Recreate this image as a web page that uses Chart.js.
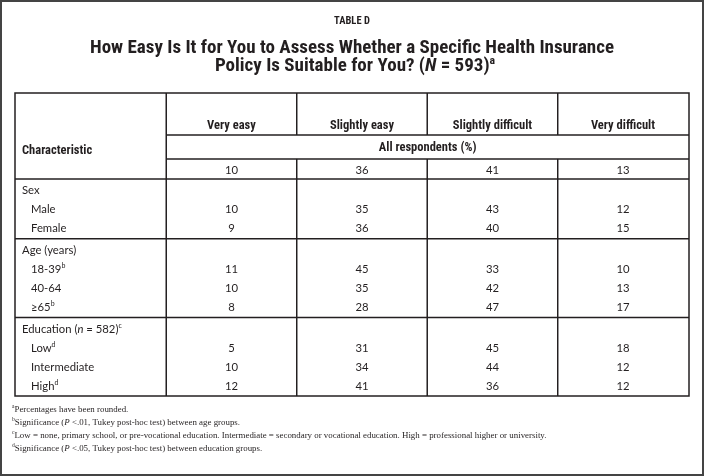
<!DOCTYPE html>
<html><head><meta charset="utf-8">
<script src="https://cdn.jsdelivr.net/npm/chart.js@4.4.0/dist/chart.umd.min.js"></script>
<style>html,body{margin:0;padding:0;background:#fff;overflow:hidden}</style>
</head><body>
<canvas id="c" width="704" height="476"></canvas>
<script>
// ---------- data ----------
const tableLabel = 'TABLE D';
const titleLines = ['How Easy Is It for You to Assess Whether a Specific Health Insurance',
                    'Policy Is Suitable for You? (*N* = 593)^a'];
const stubHeader = 'Characteristic';
const categories = ['Very easy', 'Slightly easy', 'Slightly difficult', 'Very difficult'];
const subHeader = 'All respondents (%)';
const overallValues = [10, 36, 41, 13];
const groupNames = ['Sex', 'Age (years)', 'Education (*n* = 582)^c'];
const sexLabels = ['Male', 'Female'];
const sexValues = [[10, 35, 43, 12], [9, 36, 40, 15]];
const ageLabels = ['18-39^b', '40-64', '\u226565^b'];
const ageValues = [[11, 45, 33, 10], [10, 35, 42, 13], [8, 28, 47, 17]];
const eduLabels = ['Low^d', 'Intermediate', 'High^d'];
const eduValues = [[5, 31, 45, 18], [10, 34, 44, 12], [12, 41, 36, 12]];
const footnotes = [
  '^aPercentages have been rounded.',
  '^bSignificance (*P* <.01, Tukey post-hoc test) between age groups.',
  '^cLow = none, primary school, or pre-vocational education. Intermediate = secondary or vocational education. High = professional higher or university.',
  '^dSignificance (*P* <.05, Tukey post-hoc test) between education groups.'
];

// ---------- layout (row positions in row units) ----------
const groups = [
  {name: groupNames[0], labels: sexLabels, values: sexValues},
  {name: groupNames[1], labels: ageLabels, values: ageValues},
  {name: groupNames[2], labels: eduLabels, values: eduValues}
];
const Y_HEAD = 1.68, Y_HEADLINE = 2.21, Y_SUB = 2.84, Y_SUBLINE = 3.47, Y_ALL = 4.05, Y_ALLLINE = 4.53, Y_STUB = 3.0;
const rows = [], seps = [];
let v = 5.1;
groups.forEach((g, gi) => {
  g.y = v;
  g.labels.forEach((l, i) => { v += 1; rows.push({label: l, values: g.values[i], y: v}); });
  if (gi < groups.length - 1) { v += 0.57; seps.push(v); v += 0.58; }
});

const INK = '#231f20';
const NARROW = '"Liberation Sans Narrow", "Roboto Condensed", "Arial Narrow", Lato, sans-serif';
const BODY = 'Lato, "Noto Sans", sans-serif';
const SERIF = '"Liberation Serif", "DejaVu Serif", serif';

function parse(s) {
  const out = [];
  s.split(/(\*[^*]+\*|\^[a-z])/).forEach(p => {
    if (!p) return;
    if (p[0] === '*') out.push({t: p.slice(1, -1), it: true});
    else if (p[0] === '^') out.push({t: p.slice(1), sup: true});
    else out.push({t: p});
  });
  return out;
}
function drawRich(ctx, s, x, y, f, align) {
  const segs = parse(s);
  const fontOf = seg => `${seg.it ? 'italic ' : ''}${f.weight || 'normal'} ${seg.sup ? f.size * 0.62 : f.size}px ${f.family}`;
  let w = 0;
  segs.forEach(seg => { ctx.font = fontOf(seg); seg.w = ctx.measureText(seg.t).width; w += seg.w; });
  let cx = align === 'center' ? x - w / 2 : x;
  ctx.textAlign = 'left';
  ctx.textBaseline = 'alphabetic';
  segs.forEach(seg => {
    ctx.font = fontOf(seg);
    ctx.fillText(seg.t, cx, seg.sup ? y - f.size * 0.38 : y);
    cx += seg.w;
  });
}

// one scatter dataset per answer column; each point is a table cell
const datasets = categories.map((cat, c) => ({
  label: cat,
  data: [{x: c + 1, y: Y_ALL, v: overallValues[c]}].concat(rows.map(r => ({x: c + 1, y: r.y, v: r.values[c]}))),
  pointRadius: 0, pointHoverRadius: 0
}));

const tablePlugin = {
  id: 'table',
  afterDatasetsDraw(chart) {
    const ctx = chart.ctx, xs = chart.scales.x, ys = chart.scales.y, a = chart.chartArea;
    const X = val => xs.getPixelForValue(val), Y = val => ys.getPixelForValue(val);
    ctx.save();
    ctx.fillStyle = INK; ctx.strokeStyle = INK;

    // titles
    drawRich(ctx, tableLabel, 352, 23.5, {size: 10.5, weight: 'bold', family: NARROW}, 'center');
    drawRich(ctx, titleLines[0], 352, 52.5, {size: 19, weight: 'bold', family: NARROW}, 'center');
    drawRich(ctx, titleLines[1], 355, 71, {size: 19, weight: 'bold', family: NARROW}, 'center');

    // grid
    ctx.lineWidth = 1.5;
    const hl = (yv, x0, x1) => { ctx.beginPath(); ctx.moveTo(x0, Y(yv)); ctx.lineTo(x1, Y(yv)); ctx.stroke(); };
    const vl = (xv, y0, y1) => { ctx.beginPath(); ctx.moveTo(X(xv), Y(y0)); ctx.lineTo(X(xv), Y(y1)); ctx.stroke(); };
    ctx.strokeRect(a.left, a.top, a.right - a.left, a.bottom - a.top);
    hl(Y_HEADLINE, X(0.5), a.right);
    hl(Y_SUBLINE, X(0.5), a.right);
    hl(Y_ALLLINE, a.left, a.right);
    seps.forEach(s => hl(s, a.left, a.right));
    vl(0.5, ys.min, ys.max);
    [1.5, 2.5, 3.5].forEach(xv => { vl(xv, ys.min, Y_HEADLINE); vl(xv, Y_SUBLINE, ys.max); });

    // headers
    const hf = {size: 12.5, weight: 'bold', family: NARROW};
    categories.forEach((cat, c) => drawRich(ctx, cat, X(c + 1), Y(Y_HEAD) + 4.5, hf, 'center'));
    drawRich(ctx, subHeader, (X(0.5) + a.right) / 2, Y(Y_SUB) + 4.5, hf, 'center');
    drawRich(ctx, stubHeader, a.left + 7, Y(Y_STUB) + 4.5, hf, 'left');

    // stub labels
    const bf = {size: 11.3, weight: 'normal', family: BODY};
    groups.forEach(g => drawRich(ctx, g.name, a.left + 7, Y(g.y) + 4, bf, 'left'));
    rows.forEach(r => drawRich(ctx, r.label, a.left + 16, Y(r.y) + 4, bf, 'left'));

    // cell values from dataset points
    chart.data.datasets.forEach((ds, di) => {
      chart.getDatasetMeta(di).data.forEach((pt, i) => {
        drawRich(ctx, String(ds.data[i].v), pt.x, pt.y + 4, bf, 'center');
      });
    });

    // footnotes
    const ff = {size: 8.9, weight: 'normal', family: SERIF};
    footnotes.forEach((t, i) => drawRich(ctx, t, 12, 411.5 + i * 13, ff, 'left'));

    // outer frame
    ctx.strokeStyle = '#444';
    ctx.lineWidth = 2;
    ctx.strokeRect(1, 1, chart.width - 2, chart.height - 2);
    ctx.restore();
  }
};

new Chart(document.getElementById('c'), {
  type: 'scatter',
  data: {datasets},
  options: {
    responsive: false, animation: false, devicePixelRatio: 1,
    layout: {padding: {left: 15, right: 15, top: 93, bottom: 80}},
    plugins: {legend: {display: false}, tooltip: {enabled: false}, title: {display: false}},
    events: [],
    scales: {
      x: {type: 'linear', display: false, min: -0.659, max: 4.506},
      y: {type: 'linear', display: false, min: 0, max: 15.95, reverse: true}
    }
  },
  plugins: [tablePlugin]
});
</script>
</body></html>
